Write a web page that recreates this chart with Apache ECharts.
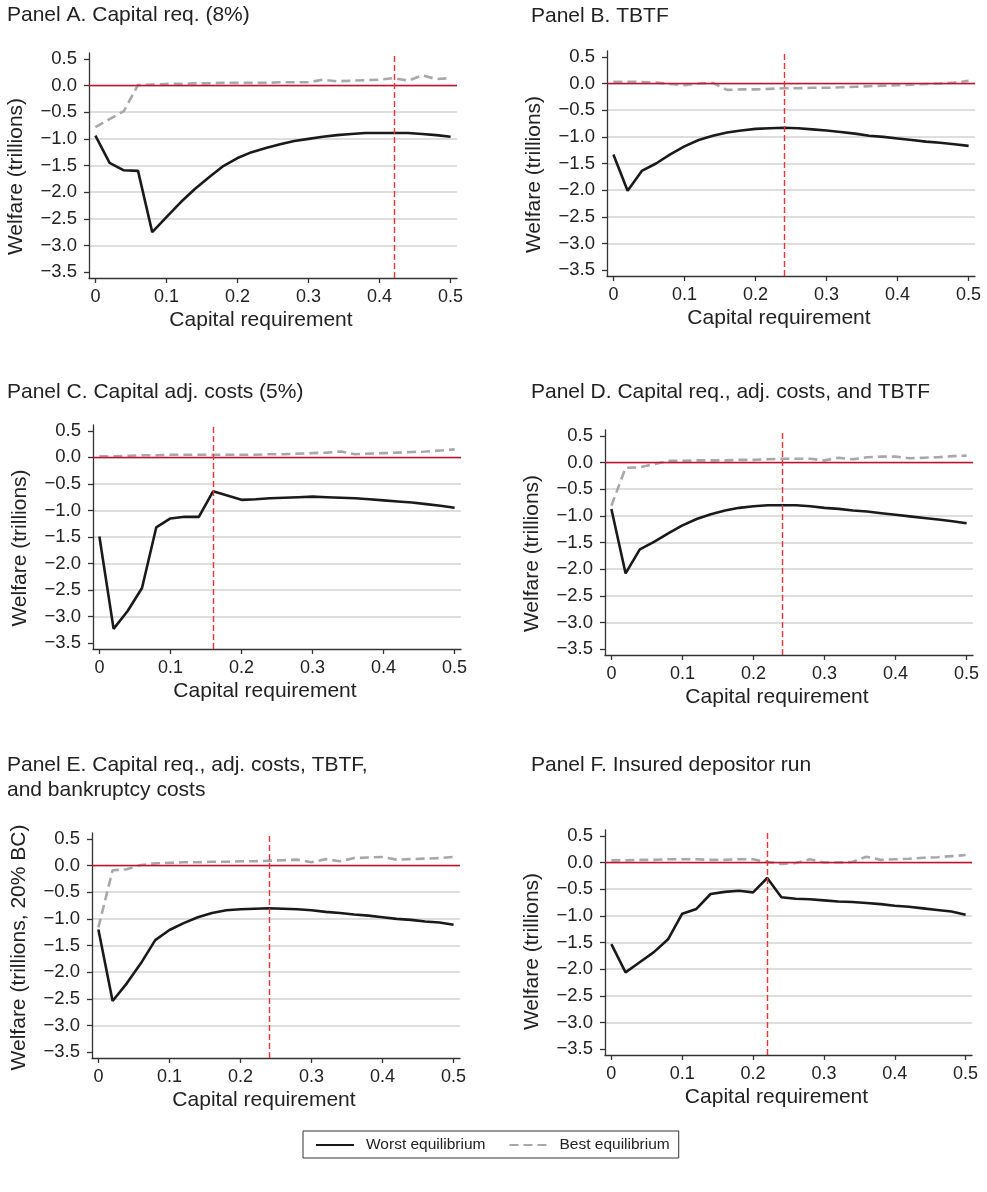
<!DOCTYPE html>
<html>
<head>
<meta charset="utf-8">
<script src="https://cdn.jsdelivr.net/npm/echarts@6/dist/echarts.min.js"></script>
<style>
  html, body { margin: 0; padding: 0; background: #fff; }
  #chart { width: 987px; height: 1192px; }
</style>
</head>
<body>
<div id="chart"></div>
<script>
// Capital requirement grid (x values shared by every panel)
const capReq = [0, 0.02, 0.04, 0.06, 0.08, 0.10, 0.12, 0.14, 0.16, 0.18, 0.20, 0.22, 0.24,
                0.26, 0.28, 0.30, 0.32, 0.34, 0.36, 0.38, 0.40, 0.42, 0.44, 0.46, 0.48, 0.50];

// Tick positions
const xTicks = [0, 0.1, 0.2, 0.3, 0.4, 0.5];
const yTicks = [-3.5, -3, -2.5, -2, -1.5, -1, -0.5, 0, 0.5];

// Panel titles
const panelTitles = [
  'Panel A. Capital req. (8%)',
  'Panel B. TBTF',
  'Panel C. Capital adj. costs (5%)',
  'Panel D. Capital req., adj. costs, and TBTF',
  'Panel E. Capital req., adj. costs, TBTF,\nand bankruptcy costs',
  'Panel F. Insured depositor run'
];
const yTitles = [
  'Welfare (trillions)', 'Welfare (trillions)', 'Welfare (trillions)',
  'Welfare (trillions)', 'Welfare (trillions, 20% BC)', 'Welfare (trillions)'
];
const xTitle = 'Capital requirement';
const seriesNames = ['Worst equilibrium', 'Best equilibrium'];

// Welfare (trillions), worst equilibrium
const worstA = [-0.94, -1.45, -1.59, -1.60, -2.75, -2.47, -2.19, -1.94, -1.72, -1.51, -1.36, -1.25, -1.17,
                -1.10, -1.04, -1.00, -0.96, -0.93, -0.91, -0.89, -0.89, -0.89, -0.89, -0.91, -0.93, -0.96];
const worstB = [-1.33, -2.01, -1.64, -1.50, -1.33, -1.18, -1.06, -0.98, -0.92, -0.88, -0.85, -0.84, -0.83,
                -0.84, -0.86, -0.88, -0.91, -0.94, -0.98, -1.00, -1.03, -1.06, -1.09, -1.11, -1.14, -1.17];
const worstC = [-1.49, -3.23, -2.89, -2.46, -1.32, -1.15, -1.12, -1.12, -0.64, -0.72, -0.80, -0.79, -0.77,
                -0.76, -0.75, -0.74, -0.75, -0.76, -0.77, -0.79, -0.81, -0.83, -0.85, -0.88, -0.91, -0.95];
const worstD = [-0.87, -2.08, -1.63, -1.49, -1.33, -1.18, -1.06, -0.97, -0.90, -0.85, -0.82, -0.80, -0.80,
                -0.80, -0.82, -0.85, -0.87, -0.90, -0.92, -0.95, -0.98, -1.01, -1.04, -1.07, -1.10, -1.14];
const worstE = [-1.20, -2.54, -2.21, -1.83, -1.40, -1.21, -1.08, -0.97, -0.89, -0.84, -0.82, -0.81, -0.80,
                -0.81, -0.82, -0.84, -0.87, -0.89, -0.92, -0.94, -0.97, -1.00, -1.02, -1.05, -1.07, -1.11];
const worstF = [-1.53, -2.06, -1.87, -1.68, -1.44, -0.96, -0.87, -0.59, -0.55, -0.53, -0.56, -0.29, -0.65,
                -0.68, -0.69, -0.71, -0.73, -0.74, -0.76, -0.78, -0.81, -0.83, -0.86, -0.89, -0.92, -0.98];

// Welfare (trillions), best equilibrium
const bestA = [-0.78, -0.63, -0.48, 0.01, 0.02, 0.03, 0.03, 0.04, 0.04, 0.05, 0.05, 0.05, 0.05,
               0.06, 0.06, 0.06, 0.11, 0.08, 0.09, 0.10, 0.11, 0.14, 0.09, 0.19, 0.12, 0.14];
const bestB = [0.03, 0.03, 0.03, 0.02, -0.01, -0.03, 0.00, 0.01, -0.12, -0.11, -0.11, -0.10, -0.09,
               -0.09, -0.08, -0.08, -0.07, -0.06, -0.05, -0.04, -0.03, -0.02, -0.01, 0.00, 0.02, 0.05];
const bestC = [0.02, 0.02, 0.03, 0.04, 0.04, 0.05, 0.05, 0.05, 0.05, 0.05, 0.05, 0.05, 0.06,
               0.06, 0.07, 0.08, 0.09, 0.11, 0.06, 0.07, 0.08, 0.09, 0.10, 0.11, 0.13, 0.15];
const bestD = [-0.81, -0.10, -0.09, -0.03, 0.03, 0.03, 0.04, 0.04, 0.04, 0.05, 0.05, 0.06, 0.07,
               0.07, 0.07, 0.04, 0.09, 0.06, 0.10, 0.11, 0.11, 0.08, 0.09, 0.10, 0.12, 0.13];
const bestE = [-1.16, -0.09, -0.07, 0.01, 0.04, 0.05, 0.06, 0.06, 0.07, 0.07, 0.08, 0.08, 0.09,
               0.10, 0.11, 0.06, 0.12, 0.08, 0.14, 0.15, 0.16, 0.11, 0.12, 0.13, 0.14, 0.16];
const bestF = [0.04, 0.04, 0.05, 0.05, 0.06, 0.06, 0.06, 0.05, 0.05, 0.06, 0.06, 0.01, -0.025,
               -0.01, 0.06, 0.00, 0.00, 0.01, 0.11, 0.05, 0.06, 0.07, 0.09, 0.10, 0.12, 0.14];

// Welfare-maximising capital requirement per panel (red dashed line)
const optimalReq = [0.42, 0.24, 0.16, 0.24, 0.24, 0.22];

const worstAll = [worstA, worstB, worstC, worstD, worstE, worstF];
const bestAll = [bestA, bestB, bestC, bestD, bestE, bestF];

// Panel layout (plot frame in pixels)
const frames = [
  { left: 89,  top: 53,  width: 368, height: 225, title: [7, 3] },
  { left: 607, top: 51,  width: 368, height: 225, title: [531, 4] },
  { left: 93,  top: 425, width: 368, height: 224, title: [7, 380] },
  { left: 605, top: 430, width: 368, height: 225, title: [531, 380] },
  { left: 92,  top: 833, width: 368, height: 225, title: [7, 753] },
  { left: 605, top: 830, width: 367, height: 225, title: [531, 753] }
];
const yNameShift = [22, 22, 22, 22, 4, 18];

const FONT = '"Liberation Sans", Arial, Helvetica, sans-serif';
const INK = '#222';
const AXIS = '#333';

const fmtY = v => (v < 0 ? '\u2212' : '') + Math.abs(v).toFixed(1);
const fmtX = v => (v === 0 ? '0' : v.toFixed(1));

const option = {
  backgroundColor: '#fff',
  animation: false,
  textStyle: { fontFamily: FONT },
  title: panelTitles.map((t, i) => ({
    text: t,
    left: frames[i].title[0],
    top: frames[i].title[1],
    padding: 0,
    textStyle: { fontFamily: FONT, fontSize: 21, fontWeight: 'normal', color: INK, lineHeight: 25 }
  })),
  legend: {
    data: seriesNames,
    left: 303,
    top: 1131,
    orient: 'horizontal',
    borderColor: AXIS,
    borderWidth: 1,
    borderRadius: 0,
    padding: [6, 9, 5, 12],
    itemWidth: 38,
    itemHeight: 14,
    itemGap: 23,
    itemStyle: { color: 'rgba(0,0,0,0)', borderWidth: 0, opacity: 0 },
    textStyle: { fontFamily: FONT, fontSize: 15.5, color: INK, padding: [0, 0, 0, 7] }
  },
  grid: frames.map(f => ({ left: f.left, top: f.top, width: f.width, height: f.height, containLabel: false })),
  xAxis: frames.map((f, i) => ({
    type: 'value',
    gridIndex: i,
    min: -0.009,
    max: 0.509,
    name: xTitle,
    nameLocation: 'middle',
    nameGap: 32,
    nameTextStyle: { fontFamily: FONT, fontSize: 21, color: INK, padding: [0, 24, 0, 0] },
    axisLine: { show: true, onZero: false, lineStyle: { color: AXIS, width: 1.3 } },
    axisTick: { show: true, length: 5, customValues: xTicks, lineStyle: { color: AXIS, width: 1.3 } },
    axisLabel: { customValues: xTicks, formatter: fmtX, margin: 10, fontFamily: FONT, fontSize: 18, color: INK },
    splitLine: { show: false }
  })),
  yAxis: frames.map((f, i) => ({
    type: 'value',
    gridIndex: i,
    min: -3.61,
    max: 0.61,
    name: yTitles[i],
    nameLocation: 'middle',
    nameRotate: 90,
    nameGap: 62,
    nameTextStyle: { fontFamily: FONT, fontSize: 21, color: INK, padding: [0, yNameShift[i], 0, 0] },
    axisLine: { show: true, onZero: false, lineStyle: { color: AXIS, width: 1.3 } },
    axisTick: { show: true, length: 5, customValues: yTicks, lineStyle: { color: AXIS, width: 1.3 } },
    axisLabel: { customValues: yTicks, formatter: fmtY, margin: 12, fontFamily: FONT, fontSize: 18.5, color: INK },
    splitLine: { show: true, showMinLine: false, showMaxLine: false, lineStyle: { color: '#d3d3d3', width: 1.5 } }
  })),
  series: []
};

for (let i = 0; i < 6; i++) {
  option.series.push({
    name: seriesNames[1],
    type: 'line',
    xAxisIndex: i,
    yAxisIndex: i,
    symbol: 'none',
    z: 3,
    data: capReq.map((x, k) => [x, bestAll[i][k]]),
    lineStyle: { color: '#a8a8aa', width: 2.6, type: [9, 5] },
    itemStyle: { color: '#a8a8aa' },
    markLine: {
      silent: true,
      symbol: ['none', 'none'],
      label: { show: false },
      emphasis: { disabled: true },
      data: [
        { yAxis: 0, lineStyle: { color: '#c8102e', width: 1.4, type: 'solid' } },
        { xAxis: optimalReq[i], lineStyle: { color: '#e8353a', width: 1.4, type: [6, 3] } }
      ]
    }
  });
  option.series.push({
    name: seriesNames[0],
    type: 'line',
    xAxisIndex: i,
    yAxisIndex: i,
    symbol: 'none',
    z: 4,
    data: capReq.map((x, k) => [x, worstAll[i][k]]),
    lineStyle: { color: '#1a1a1a', width: 2.6, type: 'solid' },
    itemStyle: { color: '#1a1a1a' }
  });
}

const chart = echarts.init(document.getElementById('chart'), null, { renderer: 'canvas' });
chart.setOption(option);
</script>
</body>
</html>
